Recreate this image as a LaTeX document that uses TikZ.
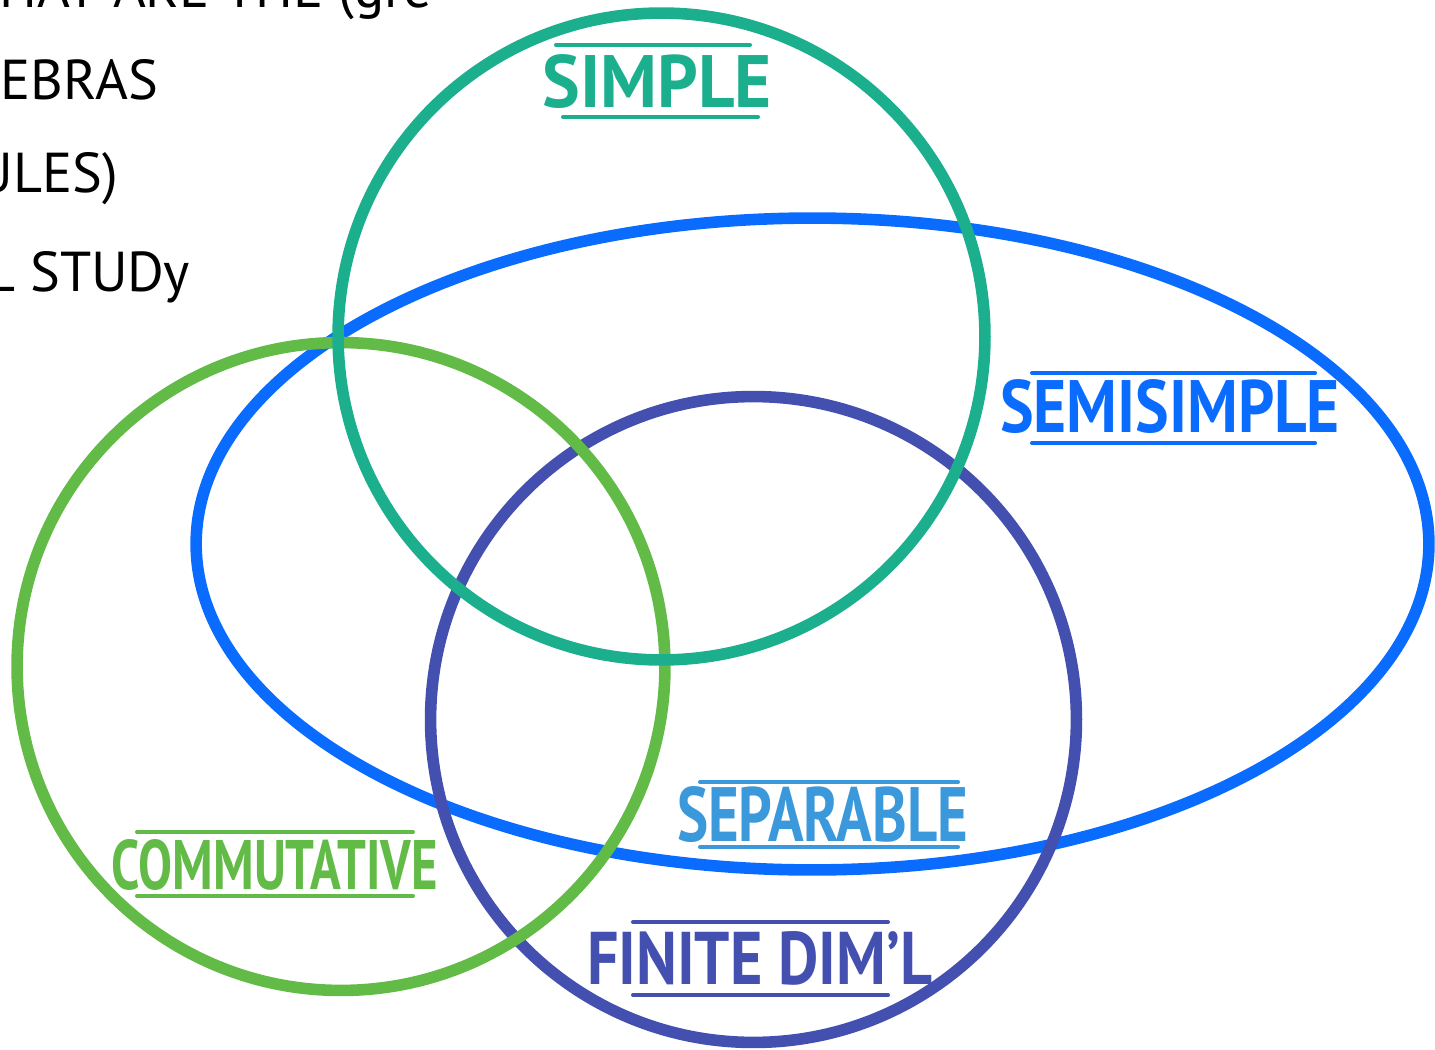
\documentclass[tikz,border=0pt]{standalone}
\usepackage{fontspec}
\setmainfont{PT Sans}
\usetikzlibrary{shapes.geometric}
\definecolor{cteal}{HTML}{1BAF8E}
\definecolor{cblue}{HTML}{0A6CFF}
\definecolor{cgreen}{HTML}{62BB46}
\definecolor{cindigo}{HTML}{4350B0}
\definecolor{csep}{HTML}{3A98DB}
\tikzset{
  ring/.style={draw, line width=6.6pt, inner sep=0pt, outer sep=0pt},
  roundset/.style={ring, circle, minimum size=#1},
  label/.style={inner sep=0pt, outer sep=0pt, font=\bfseries},
  rule/.style={line width=2.3pt, line cap=round},
  note/.style={inner sep=0pt, outer sep=0pt, font=\fontsize{32}{32}\selectfont, text=black}
}
\begin{document}
\begin{tikzpicture}[x=0.02cm, y=-0.02cm]
  \useasboundingbox (0,0) rectangle (1435,1050);
  \clip (0,0) rectangle (1435,1050);

  % handwritten notes running off the left edge
  \node[note, anchor=base east] (n1) at (432,8) {WHAT ARE THE (gre};
  \node[note, anchor=base east] (n2) at (158,100) {ALGEBRAS};
  \node[note, anchor=base east] (n3) at (118,193) {MODULES)};
  \node[note, anchor=base east] (n4) at (190,292) {CAL STUDy};

  % the four sets
  \node[ring, ellipse, cblue, minimum width=24.66cm, minimum height=13.04cm] (semisimple) at (812.5,544) {};
  \node[roundset=12.92cm, cindigo] (finite) at (753.5,719.5) {};
  \node[roundset=12.96cm, cgreen] (commutative) at (341,666.5) {};
  \node[roundset=12.94cm, cteal] (simple) at (661.5,336.5) {};

  % labels with over- and underlines
  \node[label, text=cteal] (lsimple) at (657.5,81.5) {\resizebox{4.58cm}{1.06cm}{SIMPLE}};
  \draw[rule, cteal] (556,45) -- (750,45);
  \draw[rule, cteal] (563,117) -- (758,117);

  \node[label, text=cblue] (lsemi) at (1170,406.5) {\resizebox{6.8cm}{1.06cm}{SEMISIMPLE}};
  \draw[rule, cblue] (1032,373) -- (1315,373);
  \draw[rule, cblue] (1032,443) -- (1315,443);

  \node[label, text=cgreen] (lcomm) at (275,865) {\resizebox{6.52cm}{1.0cm}{COMMUTATIVE}};
  \draw[rule, cgreen] (137,832) -- (413,832);
  \draw[rule, cgreen] (137,896) -- (413,896);

  \node[label, text=csep] (lsep) at (822.5,814.5) {\resizebox{5.82cm}{1.1cm}{SEPARABLE}};
  \draw[rule, csep] (700,782) -- (958,782);
  \draw[rule, csep] (700,847) -- (958,847);

  \node[label, text=cindigo] (lfin) at (759.5,958.5) {\resizebox{6.9cm}{1.06cm}{FINITE DIM'L}};
  \draw[rule, cindigo] (633,922) -- (888,922);
  \draw[rule, cindigo] (633,995) -- (888,995);
\end{tikzpicture}
\end{document}
